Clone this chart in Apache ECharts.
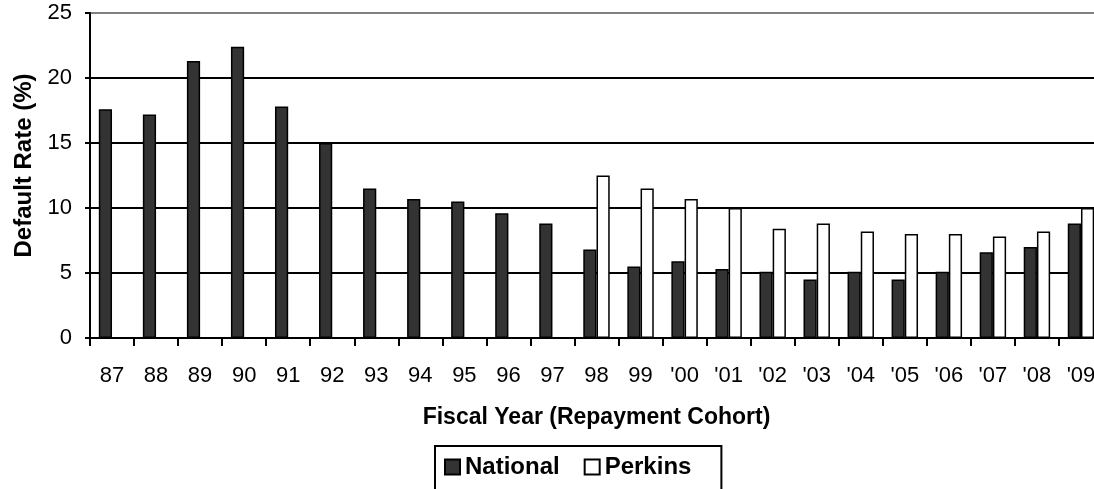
<!DOCTYPE html>
<html>
<head>
<meta charset="utf-8">
<script src="https://cdn.jsdelivr.net/npm/echarts@6/dist/echarts.min.js"></script>
<style>
html,body{margin:0;padding:0;background:#fff;}
#c{width:1094px;height:489px;}
</style>
</head>
<body>
<div id="c"></div>
<script>
const categories = ['87','88','89','90','91','92','93','94','95','96','97','98','99',"'00","'01","'02","'03","'04","'05","'06","'07","'08","'09"];
const national = [17.6,17.2,21.3,22.4,17.8,15.0,11.5,10.7,10.5,9.6,8.8,6.8,5.5,5.9,5.3,5.1,4.5,5.1,4.5,5.1,6.6,7.0,8.8];
const perkins = [null,null,null,null,null,null,null,null,null,null,null,12.5,11.5,10.7,10.0,8.4,8.8,8.2,8.0,8.0,7.8,8.2,10.0];
const yTicks = {min:0, max:25, interval:5};

const FONT = "'Liberation Sans', Arial, sans-serif";
const chart = echarts.init(document.getElementById('c'), null, {renderer:'canvas'});
chart.setOption({
  animation:false,
  backgroundColor:'#fff',
  grid:{left:90, top:13, width:1013, height:325, containLabel:false, outerBoundsMode:'none'},
  legend:{
    left:435, top:446,
    orient:'horizontal',
    data:['National','Perkins'],
    icon:'rect',
    itemWidth:15, itemHeight:15, itemGap:24,
    borderColor:'#000', borderWidth:2,
    padding:[9,30,34,9],
    textStyle:{fontFamily:FONT, fontWeight:'bold', fontSize:24, color:'#000'}
  },
  xAxis:{
    type:'category', data:categories,
    axisLine:{show:true, lineStyle:{color:'#000', width:2}},
    axisTick:{show:true, length:8, lineStyle:{color:'#000', width:2}},
    axisLabel:{margin:27, fontFamily:FONT, fontSize:22, color:'#000', interval:0},
    name:'Fiscal Year (Repayment Cohort)',
    nameLocation:'middle', nameGap:68,
    nameTextStyle:{fontFamily:FONT, fontWeight:'bold', fontSize:23, color:'#000'}
  },
  yAxis:{
    type:'value', min:yTicks.min, max:yTicks.max, interval:yTicks.interval,
    axisLine:{show:true, lineStyle:{color:'#000', width:2}},
    axisTick:{show:true, length:5, lineStyle:{color:'#000', width:2}},
    axisLabel:{margin:18, fontFamily:FONT, fontSize:22, color:'#000'},
    splitLine:{show:true, lineStyle:{color:['#000','#000','#000','#000','#000','#808080'], width:2}},
    name:'Default Rate (%)',
    nameLocation:'middle', nameGap:52,
    nameTextStyle:{fontFamily:FONT, fontWeight:'bold', fontSize:24, color:'#000', padding:[0,0,0,20]}
  },
  series:[
    {name:'National', type:'bar', data:national, barGap:'0%', barCategoryGap:'40%',
     itemStyle:{color:'#333333', borderColor:'#000', borderWidth:1.5}},
    {name:'Perkins', type:'bar', data:perkins, barGap:'0%', barCategoryGap:'40%',
     itemStyle:{color:'#ffffff', borderColor:'#000', borderWidth:1.5}}
  ]
});
</script>
</body>
</html>
